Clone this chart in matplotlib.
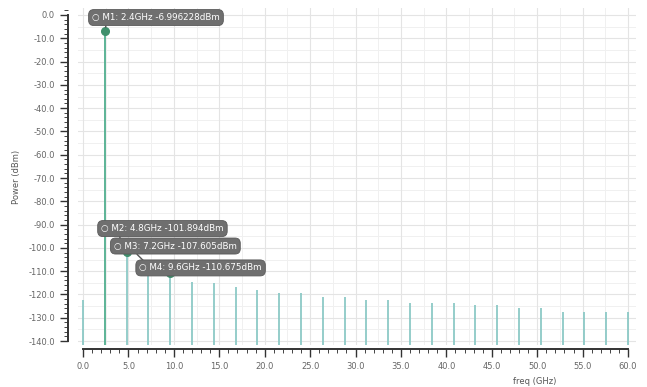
import matplotlib
matplotlib.use("Agg")
import matplotlib.pyplot as plt
from matplotlib.ticker import MultipleLocator, FormatStrFormatter

# harmonic spectrum, 2.4 GHz fundamental
freqs = [0.0, 2.4, 4.8, 7.2, 9.6, 12.0, 14.4, 16.8, 19.2, 21.6, 24.0, 26.4, 28.8,
         31.2, 33.6, 36.0, 38.4, 40.8, 43.2, 45.6, 48.0, 50.4, 52.8, 55.2, 57.6, 60.0]
power = [-122.4, -6.996228, -101.894, -107.605, -110.675, -114.6, -115.0, -116.7,
         -118.0, -119.3, -119.3, -121.0, -121.0, -122.3, -122.3, -123.6, -123.6,
         -123.6, -124.5, -124.5, -125.7, -125.7, -127.4, -127.4, -127.4, -127.4]

marker_names = ["M1", "M2", "M3", "M4"]
marker_idx = [1, 2, 3, 4]
marker_text = ["2.4GHz -6.996228dBm", "4.8GHz -101.894dBm",
               "7.2GHz -107.605dBm", "9.6GHz -110.675dBm"]
label_pos = [(1.0, -1.1), (2.0, -91.7), (3.4, -99.2), (6.2, -108.6)]

ymin, ymax = -141.7, 3.0

fig = plt.figure(figsize=(6.47, 3.87), dpi=100)
ax = fig.add_axes([0.1206, 0.1085, 0.8624, 0.8708])
ax.set_xlim(-0.55, 60.88)
ax.set_ylim(ymin, ymax)

# grid
ax.xaxis.set_major_locator(MultipleLocator(5))
ax.xaxis.set_minor_locator(MultipleLocator(1))
ax.yaxis.set_major_locator(MultipleLocator(10))
ax.yaxis.set_minor_locator(MultipleLocator(2))
ax.grid(True, which="major", color="#e4e4e4", lw=0.8)
ax.set_axisbelow(True)
for v in range(0, 61, 5):
    ax.axvline(v + 2.5, color="#f0f0f0", lw=0.7, zorder=0)
for v in range(-135, 1, 10):
    ax.axhline(v, color="#f0f0f0", lw=0.7, zorder=0)

# stems
colors = ["#4fae8e" if i == 1 else "#8cc9c6" for i in range(len(freqs))]
ax.vlines(freqs, ymin, power, colors=colors, lw=1.3, zorder=2)

# markers with labels
for name, i, txt, (tx, ty) in zip(marker_names, marker_idx, marker_text, label_pos):
    f, p = freqs[i], power[i]
    ax.plot(f, p, "o", ms=5.5, color="#3f8f6c", zorder=4)
    ax.annotate(f"\u25cb {name}: {txt}",
                xy=(f, p), xytext=(tx, ty), textcoords="data",
                ha="left", va="center", fontsize=6.3, color="white", zorder=5,
                bbox=dict(boxstyle="round,pad=0.4,rounding_size=0.6",
                          fc="#6f6f6f", ec="#5a5a5a", lw=0.6),
                arrowprops=dict(arrowstyle="-", color="#555555", lw=1.0,
                                shrinkA=0, shrinkB=3, relpos=(0.12, 0.5)))

# axes styling
for s in ["top", "right"]:
    ax.spines[s].set_visible(False)
ax.spines["left"].set_position(("outward", 7))
ax.spines["left"].set_bounds(-140, 0)
ax.spines["bottom"].set_position(("outward", 3))
ax.spines["bottom"].set_bounds(0, 60)
for s in ["left", "bottom"]:
    ax.spines[s].set_color("#333333")
    ax.spines[s].set_linewidth(1.4)

ax.tick_params(which="major", length=6, width=1.0, color="#333333",
               labelsize=6, labelcolor="#666666")
ax.tick_params(which="minor", length=3, width=0.7, color="#444444")
ax.yaxis.set_major_formatter(FormatStrFormatter("%.1f"))
ax.xaxis.set_major_formatter(FormatStrFormatter("%.1f"))

ax.set_ylabel("Power (dBm)", fontsize=6, color="#555555", labelpad=5)
fig.text(535 / 647, 1 - 381 / 387, "freq (GHz)", fontsize=6, color="#555555",
         ha="center", va="center")

fig.savefig("out.png", dpi=100)
